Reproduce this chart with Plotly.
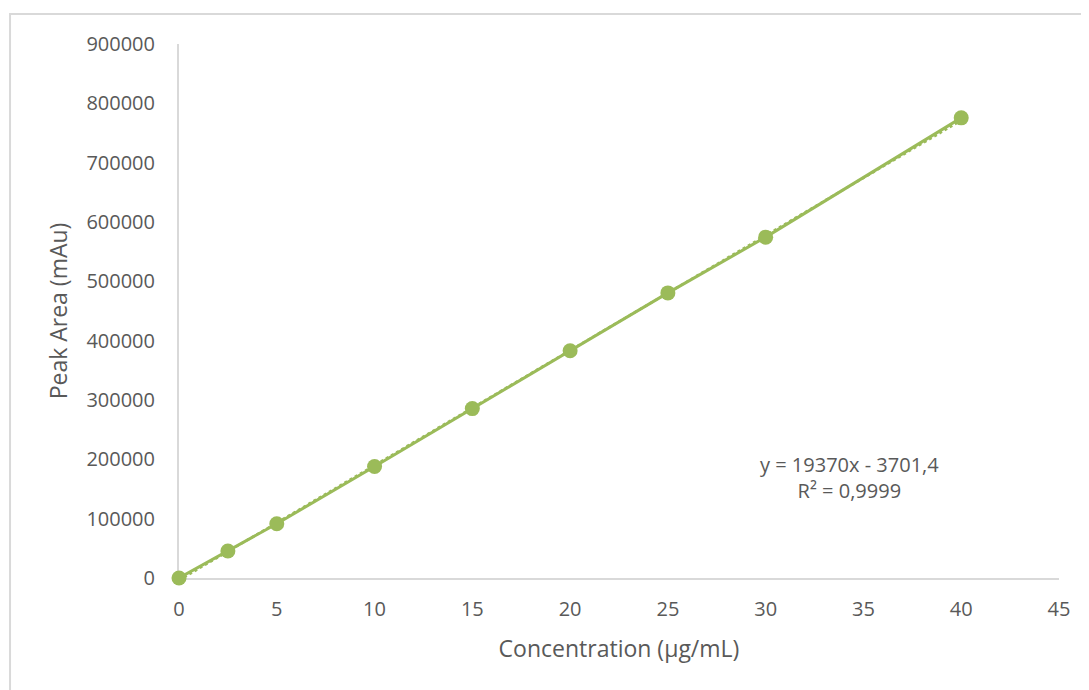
import numpy as np
import plotly.graph_objects as go

concentration = [0, 2.5, 5, 10, 15, 20, 25, 30, 40]
peak_area = [0, 45500, 91500, 188000, 285500, 383000, 480500, 574500, 775500]
trend_slope = 19370
trend_intercept = -3701.4
equation_text = "y = 19370x - 3701,4<br>R² = 0,9999"
x_ticks = [0, 5, 10, 15, 20, 25, 30, 35, 40, 45]
y_ticks = [0, 100000, 200000, 300000, 400000, 500000, 600000, 700000, 800000, 900000]

green = "#9BBB59"
grey_text = "#595959"
axis_grey = "#D9D9D9"
font_family = "Open Sans, Noto Sans, sans-serif"

trend_x = np.array([min(concentration), max(concentration)])
trend_y = trend_slope * trend_x + trend_intercept

fig = go.Figure()
fig.add_trace(go.Scatter(
    x=trend_x, y=trend_y, mode="lines",
    line=dict(color=green, width=2.5, dash="dot"),
    showlegend=False, hoverinfo="skip"))
fig.add_trace(go.Scatter(
    x=concentration, y=peak_area, mode="lines+markers",
    line=dict(color=green, width=3),
    marker=dict(color=green, size=15),
    cliponaxis=False,
    showlegend=False))

fig.add_annotation(x=34.3, y=170000, xref="x", yref="y", text=equation_text,
                   showarrow=False, align="center",
                   font=dict(family=font_family, size=20, color=grey_text))

fig.add_shape(type="rect", xref="paper", yref="paper",
              x0=-0.192, x1=1.045, y0=-0.225, y1=1.056,
              line=dict(color=axis_grey, width=2), layer="below")

fig.update_xaxes(range=[0, 45], tickvals=x_ticks, showgrid=False, zeroline=False,
                 showline=True, linecolor=axis_grey, linewidth=2,
                 layer="below traces",
                 ticks="", ticklabelstandoff=12,
                 tickfont=dict(family=font_family, size=20, color=grey_text),
                 title=dict(text="Concentration (µg/mL)", standoff=20,
                            font=dict(family=font_family, size=23, color=grey_text)))
fig.update_yaxes(range=[0, 900000], tickvals=y_ticks, showgrid=False, zeroline=False,
                 showline=True, linecolor=axis_grey, linewidth=2,
                 layer="below traces",
                 ticks="", ticklabelstandoff=18, tickformat="d",
                 tickfont=dict(family=font_family, size=20, color=grey_text),
                 title=dict(text="Peak Area (mAu)", standoff=12,
                            font=dict(family=font_family, size=23, color=grey_text)))

fig.update_layout(width=1089, height=690, plot_bgcolor="white", paper_bgcolor="white",
                  margin=dict(l=171, r=38, t=36, b=120), showlegend=False)

fig.write_html("out.html")
